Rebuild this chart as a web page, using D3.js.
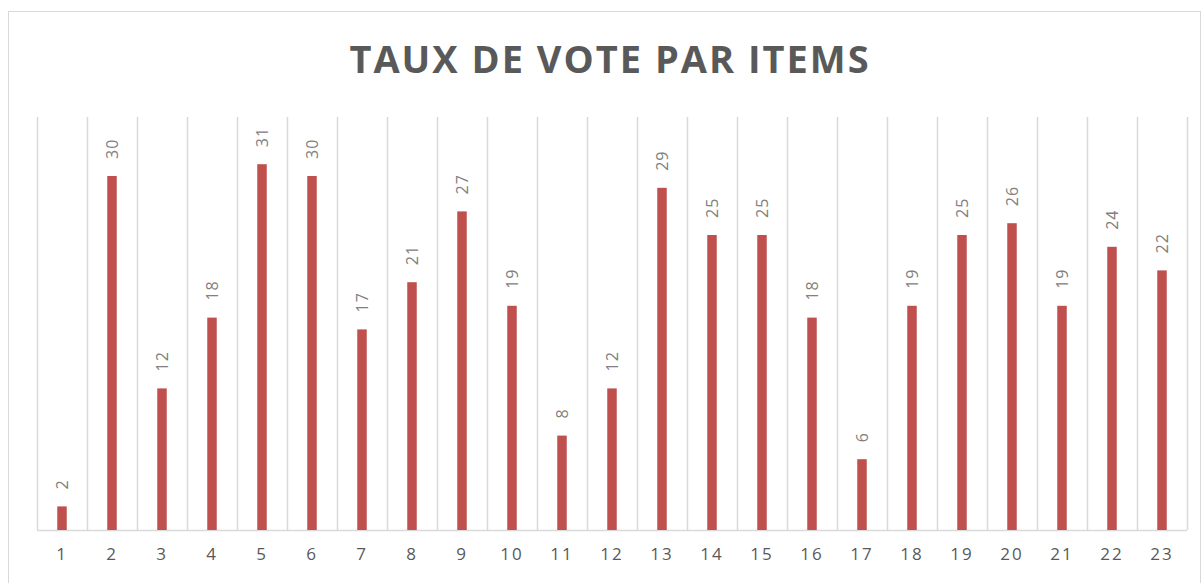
<!DOCTYPE html>
<html>
<head>
<meta charset="utf-8">
<script src="https://cdn.jsdelivr.net/npm/d3@7"></script>
<style>
  body { margin: 0; background: #fff; }
  svg { display: block; }
</style>
</head>
<body>
<svg id="chart" width="1203" height="583"></svg>
<script>
const items = d3.range(1, 24).map(String);
const votes = [2, 30, 12, 18, 31, 30, 17, 21, 27, 19, 8, 12, 29, 25, 25, 18, 6, 19, 25, 26, 19, 24, 22];
const titleText = 'TAUX DE VOTE PAR ITEMS';

const svg = d3.select('#chart');
const margin = { top: 117, left: 37, right: 16, bottom: 53 };
const width = 1203, height = 583;

// chart frame
svg.append('rect')
  .attr('x', 8.5).attr('y', 11.5)
  .attr('width', 1192).attr('height', 590)
  .attr('fill', '#fff')
  .attr('stroke', '#d9d9d9');

const x = d3.scaleBand()
  .domain(items)
  .range([margin.left, width - margin.right])
  .paddingInner(0).paddingOuter(0);

const y = d3.scaleLinear()
  .domain([0, 35])
  .range([height - margin.bottom, margin.top]);

// vertical gridlines at category boundaries
const bounds = items.map(d => x(d)).concat([x(items[items.length - 1]) + x.bandwidth()]);
svg.append('g')
  .selectAll('line')
  .data(bounds)
  .enter().append('line')
  .attr('x1', d => Math.round(d) + 0.5)
  .attr('x2', d => Math.round(d) + 0.5)
  .attr('y1', y(35))
  .attr('y2', y(0))
  .attr('stroke', '#d9d9d9')
  .attr('stroke-width', 1.5);

// baseline
svg.append('line')
  .attr('x1', bounds[0]).attr('x2', bounds[bounds.length - 1])
  .attr('y1', y(0) + 0.5).attr('y2', y(0) + 0.5)
  .attr('stroke', '#d9d9d9')
  .attr('stroke-width', 1.5);

const barW = 9.5;
svg.append('g')
  .selectAll('rect')
  .data(votes)
  .enter().append('rect')
  .attr('x', (d, i) => x(items[i]) + x.bandwidth() / 2 - barW / 2)
  .attr('y', d => y(d))
  .attr('width', barW)
  .attr('height', d => y(0) - y(d))
  .attr('fill', '#c0504d');

// value labels, rotated
svg.append('g')
  .selectAll('text')
  .data(votes)
  .enter().append('text')
  .attr('transform', (d, i) => `translate(${x(items[i]) + x.bandwidth() / 2 + 6},${y(d) - 17}) rotate(-90)`)
  .attr('text-anchor', 'start')
  .style('font-family', '"Open Sans", sans-serif')
  .style('font-size', '16px')
  .style('letter-spacing', '1px')
  .attr('fill', '#808080')
  .text(d => d);

// category axis
const xAxis = svg.append('g')
  .attr('transform', `translate(0,${y(0)})`)
  .call(d3.axisBottom(x).tickSize(0).tickPadding(18));
xAxis.select('.domain').remove();
xAxis.selectAll('text')
  .style('font-family', '"Open Sans", sans-serif')
  .style('font-size', '17px')
  .style('letter-spacing', '2px')
  .attr('fill', '#595959');

// title
svg.append('text')
  .attr('x', 610)
  .attr('y', 73)
  .attr('text-anchor', 'middle')
  .style('font-family', '"Open Sans", sans-serif')
  .style('font-weight', 'bold')
  .style('font-size', '38px')
  .style('letter-spacing', '2px')
  .attr('fill', '#595959')
  .text(titleText);
</script>
</body>
</html>
